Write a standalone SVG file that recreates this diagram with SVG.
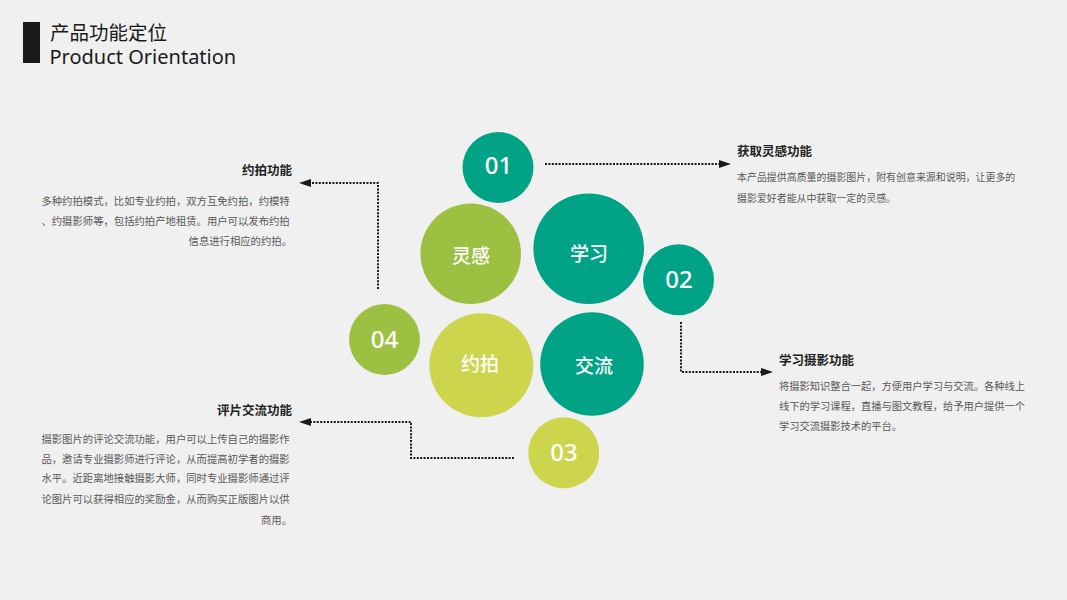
<svg xmlns="http://www.w3.org/2000/svg" width="1067" height="600" viewBox="0 0 1067 600">
  <defs>
    <marker id="arrow" viewBox="0 0 12 8" refX="0" refY="4" markerWidth="12" markerHeight="8" markerUnits="userSpaceOnUse" orient="auto">
      <path d="M0,0 L12,4 L0,8 Z" fill="#1a1a1a"/>
    </marker>
  </defs>
  <style>
    .cn { font-family: "Noto Sans CJK SC", "Noto Sans", sans-serif; }
    .head { font-family: "Noto Sans CJK SC", sans-serif; font-size: 12.5px; font-weight: bold; fill: #222; }
    .body { font-family: "Noto Sans CJK SC", sans-serif; fill: #595959; }
    .num { font-family: "Noto Sans", sans-serif; font-size: 24px; fill: #fff; text-anchor: middle; font-weight: 500; }
    .lab { font-family: "Noto Sans CJK SC", sans-serif; font-size: 19px; fill: #fff; text-anchor: middle; font-weight: 500; }
    .teal { fill: #00a386; }
    .green { fill: #9cc142; }
    .lime { fill: #cdd54c; }
    .conn { fill: none; stroke: #1a1a1a; stroke-width: 2; stroke-dasharray: 2 1.4; }
  </style>
  <rect width="1067" height="600" fill="#f0f0f0"/>

  <g id="title">
    <rect x="23" y="22" width="17" height="41" fill="#1a1a1a"/>
    <text x="50" y="39.5" class="cn" font-size="19.5" fill="#1a1a1a">产品功能定位</text>
    <text x="49.5" y="64.3" font-family="Noto Sans, sans-serif" font-size="20" fill="#1a1a1a">Product Orientation</text>
  </g>

  <g id="connectors">
    <path class="conn" d="M545,164 H719" marker-end="url(#arrow)"/>
    <path class="conn" d="M681,322 V372 H761" marker-end="url(#arrow)"/>
    <path class="conn" d="M378,289 V183 H311" marker-end="url(#arrow)"/>
    <path class="conn" d="M514,458 H411 V422 H311" marker-end="url(#arrow)"/>
  </g>

  <g id="node-01">
    <circle cx="498" cy="167.5" r="35.5" class="teal"/>
    <text x="498.5" y="174" class="num">01</text>
  </g>
  <g id="node-linggan">
    <circle cx="470.7" cy="253.7" r="50.3" class="green"/>
    <text x="471" y="262.5" class="lab">灵感</text>
  </g>
  <g id="node-xuexi">
    <circle cx="588.7" cy="248.7" r="55.3" class="teal"/>
    <text x="589" y="260.7" class="lab">学习</text>
  </g>
  <g id="node-02">
    <circle cx="678.5" cy="279.8" r="35.5" class="teal"/>
    <text x="679" y="288.2" class="num">02</text>
  </g>
  <g id="node-04">
    <circle cx="384.5" cy="339.5" r="35.5" class="green"/>
    <text x="384.5" y="347.8" class="num">04</text>
  </g>
  <g id="node-yuepai">
    <circle cx="481.3" cy="365.3" r="52" class="lime"/>
    <text x="480" y="370.7" class="lab">约拍</text>
  </g>
  <g id="node-jiaoliu">
    <circle cx="592" cy="364" r="51.8" class="teal"/>
    <text x="594" y="373" class="lab">交流</text>
  </g>
  <g id="node-03">
    <circle cx="563.8" cy="452.8" r="35.5" class="lime"/>
    <text x="564" y="461.2" class="num">03</text>
  </g>

  <g id="text-yuepai" text-anchor="end">
    <text x="292" y="175" class="head">约拍功能</text>
    <text class="body" font-size="10.35">
      <tspan x="292" y="205.3">多种约拍模式，比如专业约拍，双方互免约拍，约模特</tspan>
      <tspan x="292" y="225">、约摄影师等，包括约拍产地租赁。用户可以发布约拍</tspan>
      <tspan x="292" y="244.5">信息进行相应的约拍。</tspan>
    </text>
  </g>

  <g id="text-linggan">
    <text x="737" y="156" class="head">获取灵感功能</text>
    <text class="body" font-size="9.95">
      <tspan x="737" y="181.2">本产品提供高质量的摄影图片，附有创意来源和说明，让更多的</tspan>
      <tspan x="737" y="201.8">摄影爱好者能从中获取一定的灵感。</tspan>
    </text>
  </g>

  <g id="text-xuexi">
    <text x="779" y="364.5" class="head">学习摄影功能</text>
    <text class="body" font-size="10.25">
      <tspan x="779" y="390.3">将摄影知识整合一起，方便用户学习与交流。各种线上</tspan>
      <tspan x="779" y="410.3">线下的学习课程，直播与图文教程，给予用户提供一个</tspan>
      <tspan x="779" y="429.8">学习交流摄影技术的平台。</tspan>
    </text>
  </g>

  <g id="text-pingpian" text-anchor="end">
    <text x="292" y="414.5" class="head">评片交流功能</text>
    <text class="body" font-size="10.35">
      <tspan x="292" y="443">摄影图片的评论交流功能，用户可以上传自己的摄影作</tspan>
      <tspan x="292" y="462.8">品，邀请专业摄影师进行评论，从而提高初学者的摄影</tspan>
      <tspan x="292" y="482.3">水平。近距离地接触摄影大师，同时专业摄影师通过评</tspan>
      <tspan x="292" y="502.8">论图片可以获得相应的奖励金，从而购买正版图片以供</tspan>
      <tspan x="292" y="523.6">商用。</tspan>
    </text>
  </g>
</svg>
